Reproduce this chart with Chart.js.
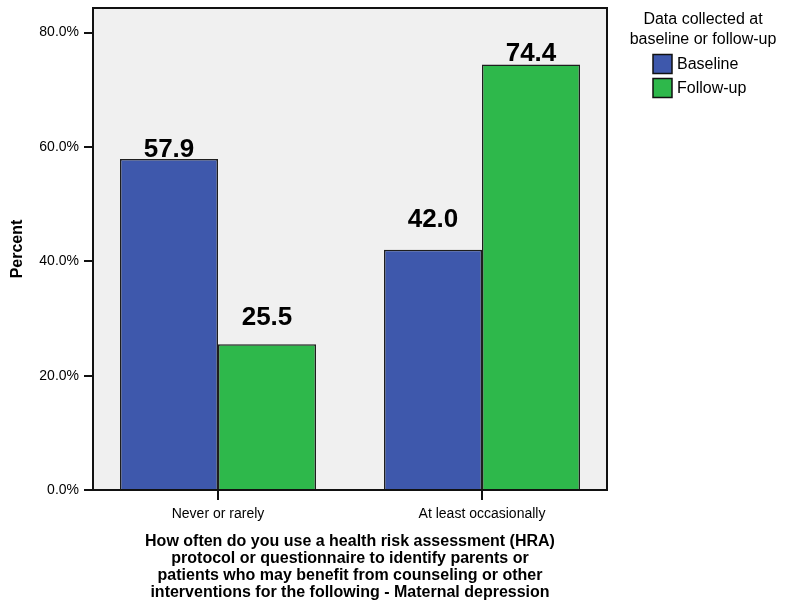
<!DOCTYPE html>
<html>
<head>
<meta charset="utf-8">
<title>HRA use - Maternal depression</title>
<script src="https://cdn.jsdelivr.net/npm/chart.js@4/dist/chart.umd.min.js"></script>
<style>
    body { margin: 0; background: #ffffff; }
    #chart { display: block; }
</style>
</head>
<body>
<canvas id="chart" width="788" height="611"></canvas>
<script>
// Data
const categories = ['Never or rarely', 'At least occasionally'];
const baselineValues = [57.9, 42.0];
const followUpValues = [25.5, 74.4];
const seriesNames = ['Baseline', 'Follow-up'];
const yTickValues = [0, 20, 40, 60, 80];

const xTitle = [
    'How often do you use a health risk assessment (HRA)',
    'protocol or questionnaire to identify parents or',
    'patients who may benefit from counseling or other',
    'interventions for the following - Maternal depression',
];
const legendTitle = ['Data collected at', 'baseline or follow-up'];

const FONT = '"Liberation Sans", Arial, Helvetica, sans-serif';
const BLUE = '#3e58ac';
const GREEN = '#2eb84b';

// Plot frame is drawn a bit inside the chart area, like the SPSS output
const FRAME_INSET = 7;

// Grey background, frame, tick marks, value labels and legend
const spssLook = {
    id: 'spssLook',
    beforeDatasetsDraw(chart) {
        const { ctx, chartArea } = chart;
        ctx.save();
        ctx.fillStyle = '#f0f0f0';
        ctx.fillRect(chartArea.left + FRAME_INSET, chartArea.top,
            chartArea.width - 2 * FRAME_INSET, chartArea.height);
        ctx.restore();
    },
    afterDatasetsDraw(chart, args, opts) {
        const { ctx, chartArea, scales } = chart;
        const left = chartArea.left + FRAME_INSET;
        const right = chartArea.right - FRAME_INSET;

        ctx.save();
        ctx.strokeStyle = '#111111';
        ctx.lineWidth = 2;
        ctx.strokeRect(left, chartArea.top, right - left, chartArea.bottom - chartArea.top);

        // y tick marks
        ctx.beginPath();
        yTickValues.forEach((v) => {
            const y = Math.round(scales.y.getPixelForValue(v));
            ctx.moveTo(left - 9, y);
            ctx.lineTo(left, y);
        });
        // x tick marks
        categories.forEach((c, i) => {
            const x = Math.round(scales.x.getPixelForTick(i));
            ctx.moveTo(x, chartArea.bottom);
            ctx.lineTo(x, chartArea.bottom + 10);
        });
        ctx.lineWidth = 2;
        ctx.stroke();

        // value labels above the bars
        ctx.fillStyle = '#000000';
        ctx.font = 'bold 26px ' + FONT;
        ctx.textAlign = 'center';
        ctx.textBaseline = 'alphabetic';
        chart.data.datasets.forEach((ds, di) => {
            const meta = chart.getDatasetMeta(di);
            meta.data.forEach((bar, i) => {
                const gap = opts.labelGaps[di][i];
                ctx.fillText(ds.data[i].toFixed(1), bar.x, bar.y - gap);
            });
        });

        // legend
        const lx = opts.legendX;
        ctx.font = '16px ' + FONT;
        ctx.textBaseline = 'middle';
        ctx.textAlign = 'center';
        legendTitle.forEach((line, i) => {
            ctx.fillText(line, opts.legendCenter, opts.legendTitleY + i * 20);
        });
        ctx.textAlign = 'left';
        chart.data.datasets.forEach((ds, di) => {
            const y = opts.legendItemY + di * 24;
            ctx.fillStyle = ds.backgroundColor;
            ctx.fillRect(lx, y - 9.5, 19, 19);
            ctx.strokeStyle = '#111111';
            ctx.lineWidth = 1.5;
            ctx.strokeRect(lx, y - 9.5, 19, 19);
            ctx.fillStyle = '#000000';
            ctx.fillText(ds.label, lx + 24, y + 1);
        });
        ctx.restore();
    },
};

new Chart(document.getElementById('chart'), {
    type: 'bar',
    data: {
        labels: categories,
        datasets: [
            {
                label: seriesNames[0],
                data: baselineValues,
                backgroundColor: BLUE,
                borderColor: '#1e1e1e',
                borderWidth: 1.5,
            },
            {
                label: seriesNames[1],
                data: followUpValues,
                backgroundColor: GREEN,
                borderColor: '#1e1e1e',
                borderWidth: 1.5,
            },
        ],
    },
    options: {
        responsive: false,
        animation: false,
        devicePixelRatio: 1,
        categoryPercentage: 0.7424,
        barPercentage: 1,
        layout: {
            padding: { top: 8, right: 174, left: 0, bottom: 0 },
        },
        plugins: {
            legend: { display: false },
            tooltip: { enabled: false },
            spssLook: {
                labelGaps: [[2, 23], [19, 4]],
                legendX: 653,
                legendCenter: 703,
                legendTitleY: 20,
                legendItemY: 64,
            },
        },
        scales: {
            x: {
                grid: { display: false, tickLength: 0 },
                border: { display: false },
                ticks: {
                    color: '#000000',
                    padding: 16,
                    font: { family: FONT, size: 14 },
                },
                title: {
                    display: true,
                    text: xTitle,
                    color: '#000000',
                    padding: { top: 0, bottom: 10 },
                    font: { family: FONT, size: 16, weight: 'bold', lineHeight: 1.06 },
                },
                afterFit: (scale) => {
                    scale.height = 121;
                    scale.paddingLeft = 0;
                    scale.paddingRight = 0;
                },
            },
            y: {
                min: 0,
                max: 84.3,
                grid: { display: false, tickLength: 0 },
                border: { display: false },
                ticks: {
                    stepSize: 20,
                    color: '#000000',
                    padding: 7,
                    font: { family: FONT, size: 14 },
                    callback: (v) => (yTickValues.includes(v) ? v.toFixed(1) + '%' : null),
                },
                title: {
                    display: true,
                    text: 'Percent',
                    color: '#000000',
                    padding: { top: 8, bottom: 0 },
                    font: { family: FONT, size: 16, weight: 'bold', lineHeight: 1.2 },
                },
                afterFit: (scale) => {
                    scale.width = 86;
                    scale.paddingTop = 0;
                    scale.paddingBottom = 0;
                },
            },
        },
    },
    plugins: [spssLook],
});
</script>
</body>
</html>
